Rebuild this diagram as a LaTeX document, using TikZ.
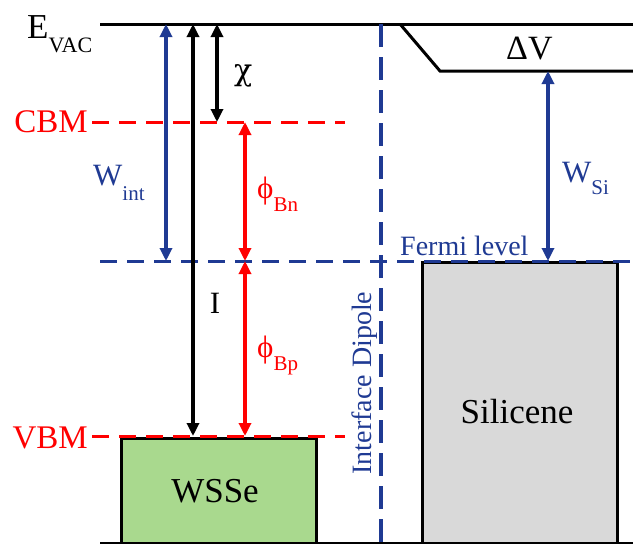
\documentclass[tikz,border=0pt]{standalone}
\usepackage{fontspec}
\setmainfont{Liberation Serif}
\newfontfamily\grk{DejaVu Serif}
\usetikzlibrary{arrows.meta}
\definecolor{dblue}{HTML}{1F3A93}
\definecolor{lgreen}{HTML}{A9D98E}
\definecolor{lgray}{HTML}{D9D9D9}
\tikzset{
  lvl/.style={line width=3pt},
  dashlvl/.style={line width=3pt, dash pattern=on 17pt off 10pt},
  vdash/.style={line width=3.8pt, dash pattern=on 23pt off 10pt},
  dbl/.style={line width=3.2pt, {Triangle[length=13pt,width=12pt]}-{Triangle[length=13pt,width=12pt]}},
  lbl/.style={inner sep=0pt, font=\fontsize{33}{33}\selectfont}
}
\begin{document}
\begin{tikzpicture}[x=1pt,y=-1pt]
\useasboundingbox (0,0) rectangle (633,544);
% coordinates
\coordinate (vacL) at (100,24);
\coordinate (vacR) at (633,24);
\coordinate (dvA) at (400,24);
\coordinate (dvB) at (440,71);
\coordinate (dvR) at (633,71);
\coordinate (botL) at (100,543);
\coordinate (botR) at (633,543);
\coordinate (cbmL) at (92,122);
\coordinate (cbmR) at (345,122);
\coordinate (vbmL) at (92,436);
\coordinate (vbmR) at (345,436);
\coordinate (fermiL) at (100,261);
\coordinate (fermiR) at (633,261);
\coordinate (dipT) at (381,24);
\coordinate (dipB) at (381,544);
% boxes
\node[draw=black, line width=2.5pt, fill=lgreen, minimum width=195pt, minimum height=107pt, inner sep=0pt, anchor=north west] (wsse) at (120,437) {};
\node[draw=black, line width=2.5pt, fill=lgray, minimum width=195pt, minimum height=283pt, inner sep=0pt, anchor=north west] (sil) at (421,261) {};
\node[lbl, font=\fontsize{35}{35}\selectfont, anchor=base] (wssetxt) at (215,502) {WSSe};
\node[lbl, font=\fontsize{35}{35}\selectfont, anchor=base] (siltxt) at (517,423) {Silicene};
% levels
\draw[lvl] (vacL) -- (vacR);
\draw[lvl] (dvA) -- (dvB) -- (dvR);
\draw[lvl] (botL) -- (botR);
\draw[dashlvl, red] (cbmL) -- (cbmR);
\draw[dashlvl, red] (vbmL) -- (vbmR);
\draw[dashlvl, dblue] (fermiL) -- (fermiR);
\draw[vdash, dblue] (dipT) -- (dipB);
% arrow endpoints
\coordinate (wiT) at (166,24);  \coordinate (wiB) at (166,261);
\coordinate (iT) at (193,24);   \coordinate (iB) at (193,436);
\coordinate (chT) at (217,24);  \coordinate (chB) at (217,122);
\coordinate (bnT) at (245,122); \coordinate (bnB) at (245,261);
\coordinate (bpT) at (245,261); \coordinate (bpB) at (245,436);
\coordinate (wsT) at (548,71);  \coordinate (wsB) at (548,261);
\draw[dbl, dblue] (wiT) -- (wiB);
\draw[dbl, black] (iT) -- (iB);
\draw[dbl, black] (chT) -- (chB);
\draw[dbl, red] (bnT) -- (bnB);
\draw[dbl, red] (bpT) -- (bpB);
\draw[dbl, dblue] (wsT) -- (wsB);
% labels
\node[lbl, font=\fontsize{35}{35}\selectfont, anchor=base west] (evac) at (27,38) {E\lower14pt\hbox{\fontsize{22}{22}\selectfont VAC}};
\node[lbl, red, anchor=base east] (cbm) at (88,132) {CBM};
\node[lbl, red, anchor=base east] (vbm) at (88,448) {VBM};
\node[lbl, dblue, font=\fontsize{31}{31}\selectfont, anchor=base west] (wint) at (93,185) {W\lower15pt\hbox{\fontsize{21}{21}\selectfont int}};
\node[lbl, font=\fontsize{30}{30}\selectfont\grk, anchor=base west] (chi) at (234,80) {χ};
\node[lbl, red, font=\fontsize{31}{31}\selectfont, anchor=base west] (phibn) at (257,198) {ϕ\lower13pt\hbox{\fontsize{21}{21}\selectfont Bn}};
\node[lbl, red, font=\fontsize{31}{31}\selectfont, anchor=base west] (phibp) at (257,357) {ϕ\lower13pt\hbox{\fontsize{21}{21}\selectfont Bp}};
\node[lbl, font=\fontsize{31}{31}\selectfont, anchor=base] (ilbl) at (215,313) {I};
\node[lbl, dblue, font=\fontsize{31}{31}\selectfont, anchor=base west] (wsi) at (562,182) {W\lower12pt\hbox{\fontsize{21}{21}\selectfont Si}};
\node[lbl, font=\fontsize{34}{34}\selectfont, anchor=base west] (dv) at (506,59) {ΔV};
\node[lbl, dblue, font=\fontsize{28}{28}\selectfont, anchor=base west] (fermi) at (400,255) {Fermi level};
\node[lbl, dblue, font=\fontsize{28}{28}\selectfont, rotate=90, anchor=base] (dip) at (371,383) {Interface Dipole};
\end{tikzpicture}
\end{document}
